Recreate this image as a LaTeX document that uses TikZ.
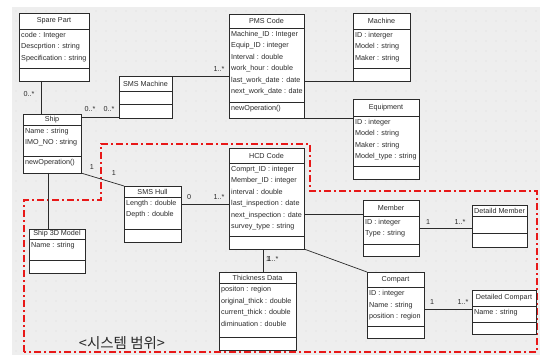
\documentclass[tikz,border=0pt]{standalone}
\usepackage{fontspec}
\setmainfont{Liberation Sans}
\newfontfamily\krfont{Noto Sans CJK KR}
\definecolor{bg}{HTML}{EEEEEE}
\definecolor{dotc}{HTML}{B8B8B8}
\definecolor{bound}{HTML}{E81818}
\definecolor{ink}{HTML}{2A2A2A}
\tikzset{
 cls/.style={draw=ink, fill=white, line width=0.8pt, inner sep=0pt, outer sep=0pt, anchor=north west},
 divline/.style={draw=ink, line width=0.7pt},
 ttl/.style={font=\fontsize{7.2}{8}\selectfont, text=ink, inner sep=0pt},
 attr/.style={font=\fontsize{7.2}{8}\selectfont, text=ink, inner sep=0pt, anchor=base west},
 conn/.style={draw=ink, line width=0.7pt},
 mult/.style={font=\fontsize{7.2}{8}\selectfont, text=ink, inner sep=0pt},
 boundary/.style={draw=bound, line width=1.8pt, dash pattern=on 7pt off 3pt on 2pt off 3pt},
}
\newcommand{\umlbox}[9]{%
 \pgfmathsetmacro{\bw}{#4-#2}\pgfmathsetmacro{\bh}{#5-#3}%
 \node[cls, minimum width=\bw pt, minimum height=\bh pt] (#1) at (#2,#3) {};
 \draw[divline] (#2,#6) -- (#4,#6);
 \draw[divline] (#2,#7) -- (#4,#7);
 \node[ttl] (#1-t) at ({(#2+#4)/2},{(#3+#6)/2}) {#8};
 \foreach \a [count=\k] in {#9} {\node[attr] (#1-a\k) at ({#2+2},{#6+8.5+(\k-1)*11.5}) {\a};}
}
\begin{document}
\begin{tikzpicture}[x=1pt,y=-1pt]
\useasboundingbox (0,0) rectangle (540,355);
\fill[white] (0,0) rectangle (540,355);
\fill[bg] (12,7) rectangle (540,355);
\foreach \i in {0,...,52}{\foreach \j in {0,...,34}{\fill[dotc] (16+\i*10,11+\j*10) circle (0.45);}}

% boundary
\draw[boundary] (24,352) -- (24,200) -- (101,200) -- (101,144) -- (310,144) -- (310,191) -- (537,191) -- (537,352) -- cycle;

% classes
\umlbox{spare}{19}{13}{89}{81}{29}{68}{Spare Part}{code : Integer, Descprtion : string, Specification : string}
\umlbox{smsm}{119}{76}{172}{118}{91}{104}{SMS Machine}{}
\umlbox{ship}{23}{114}{81}{173}{125}{156}{Ship}{Name : string, IMO\_NO : string}
\node[attr] (ship-m) at (25,164.5) {newOperation()};
\umlbox{pms}{229}{14}{304}{118}{28}{102}{PMS Code}{Machine\_ID : Integer, Equip\_ID : integer, Interval : double, work\_hour : double, last\_work\_date : date, next\_work\_date : date}
\node[attr] (pms-m) at (231,110.5) {newOperation()};
\umlbox{machine}{353}{13}{410}{81}{29}{68}{Machine}{ID : interger, Model : string, Maker : string}
\umlbox{equip}{353}{99}{419}{179}{116}{166}{Equipment}{ID : integer, Model : string, Maker : string, Model\_type : string}
\umlbox{s3d}{29}{229}{85}{273}{239}{260}{Ship 3D Model}{Name : string}
\umlbox{hull}{124}{186}{181}{242}{197}{229}{SMS Hull}{Length : double, Depth : double}
\umlbox{hcd}{229}{148}{304}{249}{163}{236}{HCD Code}{Comprt\_ID : integer, Member\_ID : integer, interval : double, last\_inspection : date, next\_inspection : date, survey\_type : string}
\umlbox{member}{363}{200}{419}{256}{216}{244}{Member}{ID : integer, Type : string}
\umlbox{dm}{472}{205}{527}{247}{216}{233}{Detaild Member}{}
\umlbox{compart}{367}{272}{424}{338}{287}{326}{Compart}{ID : integer, Name : string, position : region}
\umlbox{dc}{472}{290}{536}{334}{306}{322}{Detailed Compart}{Name : string}
\umlbox{thick}{219}{272}{296}{350}{283}{337}{Thickness Data}{positon : region, original\_thick : double, current\_thick : double, diminuation : double}

% connectors
\draw[conn] ([xshift=-13pt]spare.south) -- ([xshift=-13pt]spare.south |- ship.north);
\draw[conn] ([yshift=1pt]smsm.south west) -- ([yshift=1pt]smsm.south west -| ship.east);
\draw[conn] (smsm.north east) -- (smsm.north east -| pms.west);
\draw[conn] (machine.south west) -- (machine.south west -| pms.east);
\draw[conn] (pms.south east) -- (pms.south east -| equip.west);
\draw[conn] ([xshift=-4pt]ship.south) -- ([xshift=-4pt]ship.south |- s3d.north);
\draw[conn] (ship.south east) -- (hull.north west);
\draw[conn] ([yshift=-18pt]hull.north east) -- ([yshift=-18pt]hull.north east -| hcd.west);
\draw[conn] ([yshift=-14pt]member.north west) -- ([yshift=-14pt]member.north west -| hcd.east);
\draw[conn] (member.east) -- (member.east -| dm.west);
\draw[conn] (hcd.south east) -- (compart.north west);
\draw[conn] ([xshift=-3.5pt]hcd.south) -- ([xshift=-3.5pt]hcd.south |- thick.north);
\draw[conn] ([yshift=3pt]dc.west) -- ([yshift=3pt]dc.west -| compart.east);

% multiplicities
\node[mult] (m1) at (29,94) {0..*};
\node[mult] (m2) at (90,109) {0..*};
\node[mult] (m3) at (109,109) {0..*};
\node[mult] (m4) at (219,69) {1..*};
\node[mult] (m5) at (92,167) {1};
\node[mult] (m6) at (114,173) {1};
\node[mult] (m7) at (189,197) {0};
\node[mult] (m8) at (219,197) {1..*};
\node[mult] (m9) at (428,222) {1};
\node[mult] (m10) at (460,222) {1..*};
\node[mult] (m11) at (268,259) {1};
\node[mult] (m12) at (273,259.5) {1..*};
\node[mult] (m13) at (432,302) {1};
\node[mult] (m14) at (463,302) {1..*};

\node[font=\krfont\fontsize{14.5}{14.5}\selectfont, text=ink] (scope) at (122,343) {<시스템 범위>};
\end{tikzpicture}
\end{document}
